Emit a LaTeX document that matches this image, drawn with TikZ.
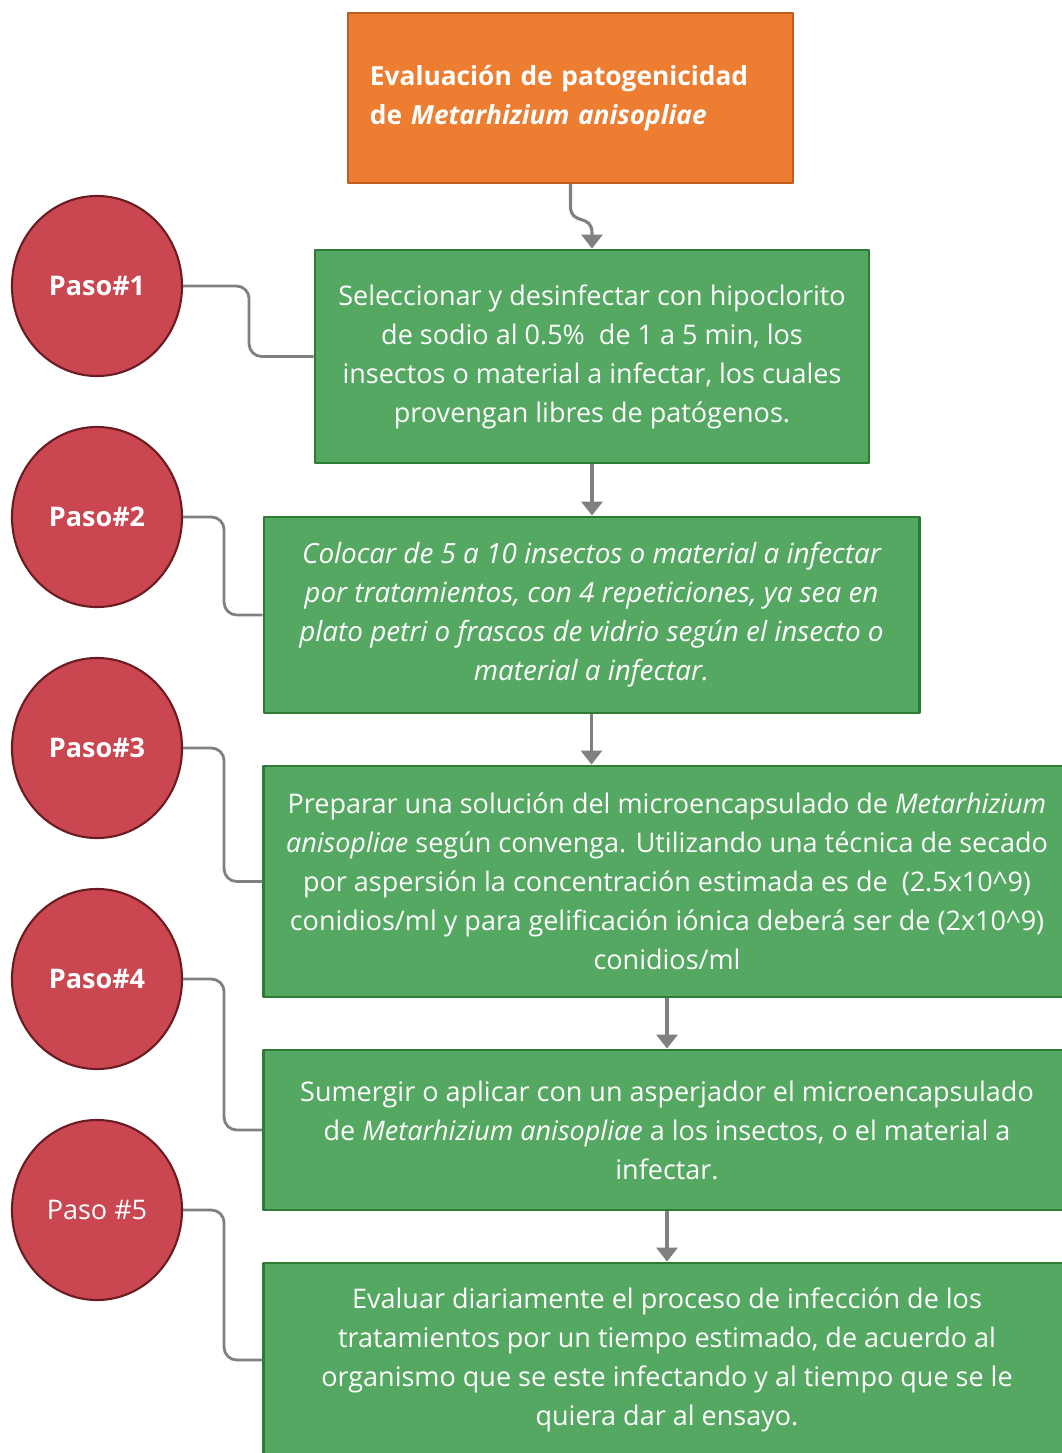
\documentclass[tikz,border=0pt]{standalone}
\usepackage{fontspec}
\setmainfont{Open Sans}
\usetikzlibrary{arrows.meta,shapes.geometric}
\definecolor{naranja}{HTML}{ED7D31}
\definecolor{naranjaborde}{HTML}{BE5E1E}
\definecolor{verde}{HTML}{55A862}
\definecolor{verdeborde}{HTML}{2E7B34}
\definecolor{rojo}{HTML}{CA4650}
\definecolor{rojoborde}{HTML}{6B1C22}
\definecolor{gris}{HTML}{808080}
\begin{document}
\begin{tikzpicture}[x=0.025cm,y=-0.025cm,line join=round,font=\fontsize{19.2}{27.7}\selectfont,
	paso/.style={ellipse,draw=rojoborde,fill=rojo,line width=1.5pt,minimum width=4.25cm,minimum height=4.5cm,inner sep=0pt,text=white},
	caja/.style={rectangle,draw=verdeborde,fill=verde,line width=2pt,inner sep=0pt,align=center,text=white},
	flecha/.style={draw=gris,line width=2.2pt,-{Triangle[width=15pt,length=10pt]}},
	enlace/.style={draw=gris,line width=2pt,rounded corners=9pt}]
	\useasboundingbox (0,0) rectangle (1061,1453);
	% titulo
	\node[rectangle,draw=naranjaborde,fill=naranja,line width=1.5pt,text=white,align=left,
		font=\fontsize{18.7}{27.7}\selectfont,
		text width=10.025cm,inner xsep=0.55cm,inner ysep=0pt,minimum height=4.25cm] (titulo) at (570.5,98)
		{\textbf{Evaluación de patogenicidad\\ de \textit{Metarhizium anisopliae}}};
	% pasos
	\node[caja,minimum width=13.85cm,minimum height=5.325cm] (c1) at (592,356.5)
		{Seleccionar y desinfectar con hipoclorito\\ de sodio al 0.5\%\ \ de 1 a 5 min, los\\ insectos o material a infectar, los cuales\\ provengan libres de patógenos.};
	\node[caja,minimum width=16.375cm,minimum height=4.9cm,font=\fontsize{19.8}{27.7}\selectfont\itshape] (c2) at (591.5,615)
		{Colocar de 5 a 10 insectos o material a infectar\\ por tratamientos, con 4 repeticiones, ya sea en\\ plato petri o frascos de vidrio según el insecto o\\ material a infectar.};
	\node[caja,minimum width=20.15cm,minimum height=5.775cm] (c3) at (667,881.5)
		{Preparar una solución del microencapsulado de \textit{Metarhizium}\\ \textit{anisopliae} según convenga. Utilizando una técnica de secado\\ por aspersión la concentración estimada es de\ \ (2.5x10\textasciicircum9)\\ conidios/ml y para gelificación iónica deberá ser de (2x10\textasciicircum9)\\ conidios/ml};
	\node[caja,minimum width=20.15cm,minimum height=4cm] (c4) at (667,1130)
		{Sumergir o aplicar con un asperjador el microencapsulado\\ de \textit{Metarhizium anisopliae} a los insectos, o el material a\\ infectar.};
	\node[caja,minimum width=20.15cm,minimum height=4.85cm] (c5) at (667,1360)
		{Evaluar diariamente el proceso de infección de los\\ tratamientos por un tiempo estimado, de acuerdo al\\ organismo que se este infectando y al tiempo que se le\\ quiera dar al ensayo.};
	% circulos
	\node[paso] (p1) at (97,286) {\textbf{Paso\#1}};
	\node[paso] (p2) at (97,517) {\textbf{Paso\#2}};
	\node[paso] (p3) at (97,748) {\textbf{Paso\#3}};
	\node[paso] (p4) at (97,979) {\textbf{Paso\#4}};
	\node[paso] (p5) at (97,1210) {Paso \#5};
	% flechas
	\draw[flecha] (titulo.south) -- ++(0,22) .. controls +(0,20) and +(0,-20) .. ([yshift=11pt]c1.north) -- (c1.north);
	\draw[flecha] (c1.south) -- (c1.south |- c2.north);
	\draw[flecha] (c2.south) -- (c2.south |- c3.north);
	\draw[flecha] (c3.south) -- (c4.north);
	\draw[flecha] (c4.south) -- (c5.north);
	% enlaces
	\draw[enlace] (p1.east) -- ++(66,0) |- (c1.west);
	\draw[enlace] (p2.east) -- ++(41,0) |- (c2.west);
	\draw[enlace] (p3.east) -- ++(41,0) |- (c3.west);
	\draw[enlace] (p4.east) -- ++(41,0) |- (c4.west);
	\draw[enlace] (p5.east) -- ++(41,0) |- (c5.west);
\end{tikzpicture}
\end{document}
